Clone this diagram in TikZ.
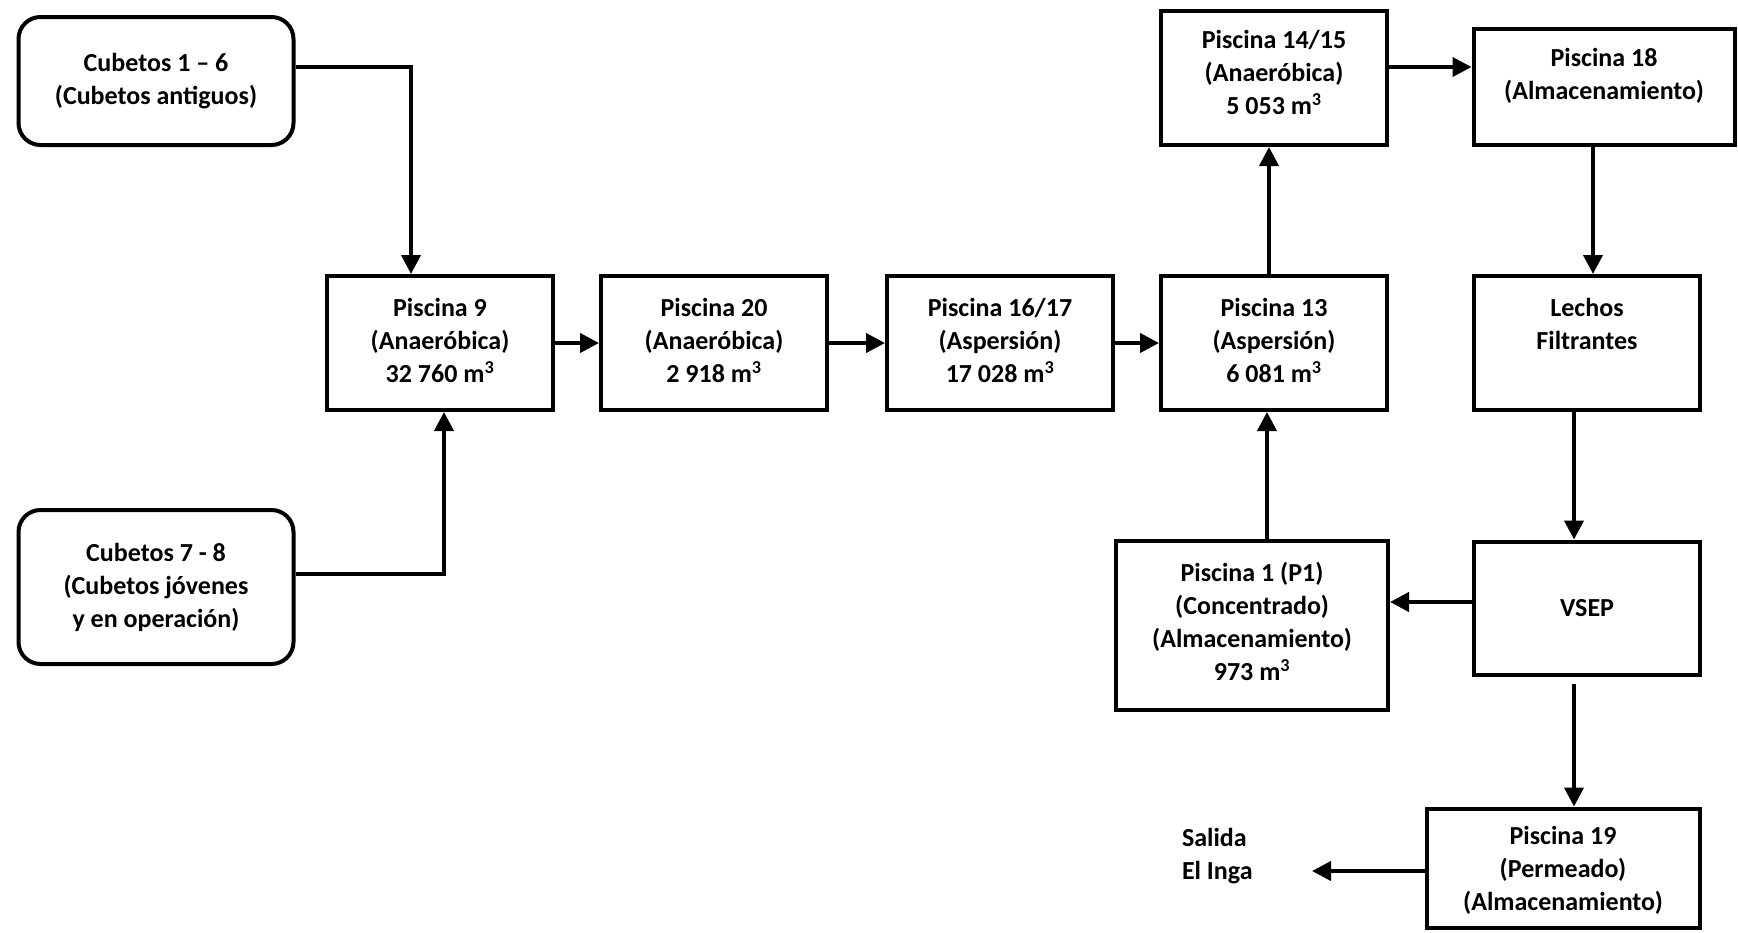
\documentclass[tikz,border=0pt]{standalone}
\usepackage{fontspec}
\setmainfont{Carlito}
\usetikzlibrary{arrows.meta, positioning}

\begin{document}
\begin{tikzpicture}[
x=1pt, y=-1pt,
line width=4pt,
every node/.style={
    align=center,
    inner sep=0pt,
    font=\bfseries\fontsize{26}{33}\selectfont,
    },
pool/.style={
    draw,
    rectangle,
    minimum width=226pt,
    minimum height=134pt,
    text depth=6pt,
    },
cubeto/.style={
    draw,
    rectangle,
    rounded corners=22pt,
    minimum width=275pt,
    },
hv/.style={
    to path={-| (\tikztotarget)},
    },
every edge/.style={
    draw,
    -{Triangle[length=19pt,width=19pt]},
    },
]
\useasboundingbox (0,0) rectangle (1738,932);

% sources
\node[cubeto, minimum height=128pt] (c16) at (156,81)
     {Cubetos 1 – 6\\(Cubetos antiguos)};
\node[cubeto, minimum height=154pt] (c78) at (156,587)
     {Cubetos 7 - 8\\(Cubetos jóvenes\\y en operación)};

% main line
\node[pool] (p9) at (440,343) {Piscina 9\\(Anaeróbica)\\32 760 m\textsuperscript{3}};
\node[pool] (p20) at (714,343) {Piscina 20\\(Anaeróbica)\\2 918 m\textsuperscript{3}};
\node[pool] (p1617) at (1000,343) {Piscina 16/17\\(Aspersión)\\17 028 m\textsuperscript{3}};
\node[pool] (p13) at (1274,343) {Piscina 13\\(Aspersión)\\6 081 m\textsuperscript{3}};
\node[pool, text depth=12pt] (p1415) at (1274,78) {Piscina 14/15\\(Anaeróbica)\\5 053 m\textsuperscript{3}};
\node[pool, minimum width=261pt, minimum height=116pt, text depth=26pt] (p18) at (1604,87)
     {Piscina 18\\(Almacenamiento)};
\node[pool, text depth=38pt] (lechos) at (1587,343) {Lechos\\Filtrantes};
\node[pool, minimum height=133pt, text depth=0pt] (vsep) at (1587,608) {VSEP};
\node[pool, minimum width=272pt, minimum height=169pt, text depth=8pt] (p1) at (1252,625)
     {Piscina 1 (P1)\\(Concentrado)\\(Almacenamiento)\\973 m\textsuperscript{3}};
\node[pool, minimum width=273pt, minimum height=119pt, text depth=-3pt] (p19) at (1563,868)
     {Piscina 19\\(Permeado)\\(Almacenamiento)};
\node[anchor=west, align=left] (salida) at (1180,856) {Salida\\El Inga};
\coordinate (exit) at (1312,871);

\path ([yshift=14pt]c16.east) edge[hv] ([xshift=-29pt]p9.north)
      ([yshift=13pt]c78.east) edge[hv] ([xshift=4pt]p9.south)
      (p9) edge (p20)
      (p20) edge (p1617)
      (p1617) edge (p13)
      ([xshift=-5pt]p13.north) edge ([xshift=-5pt]p1415.south)
      ([yshift=11pt]p1415.east) edge ([yshift=11pt]p1415.east -| p18.west)
      ([xshift=6pt]lechos.north |- p18.south) edge ([xshift=6pt]lechos.north)
      ([xshift=-13pt]lechos.south) edge ([xshift=-13pt]vsep.north)
      ([yshift=6pt]vsep.west) edge ([yshift=6pt]vsep.west -| p1.east)
      ([xshift=-7pt]p13.south |- p1.north) edge ([xshift=-7pt]p13.south)
      ([xshift=-13pt]vsep.south) edge[shorten <=7pt] ([xshift=-13pt]vsep.south |- p19.north)
      (p19.west |- exit) edge (exit);
\end{tikzpicture}
\end{document}
